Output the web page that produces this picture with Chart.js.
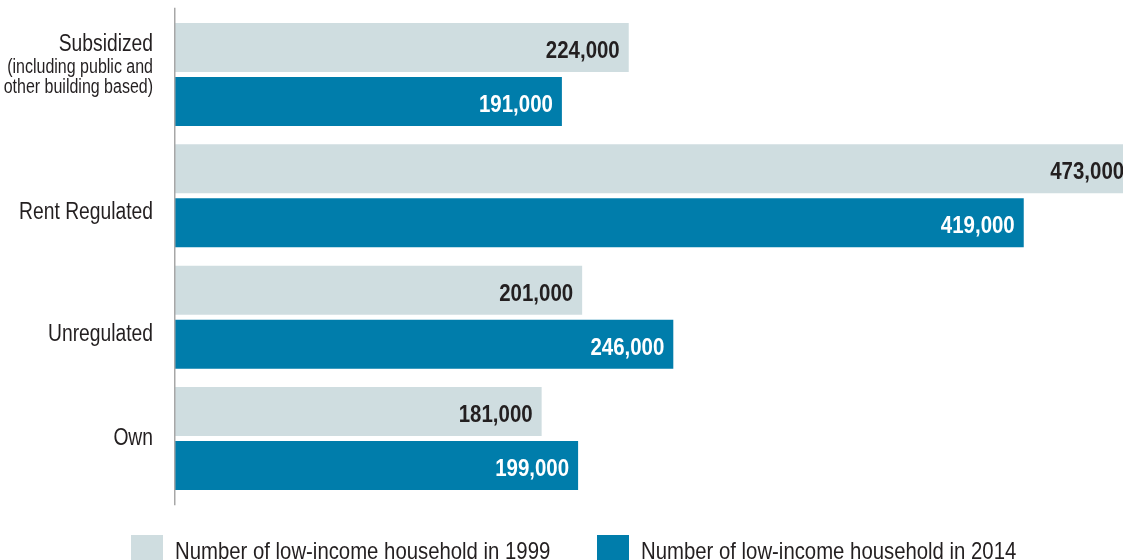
<!DOCTYPE html>
<html>
<head>
<meta charset="utf-8">
<title>Low-income households by housing type, 1999 and 2014</title>
<script src="https://cdn.jsdelivr.net/npm/chart.js@4.4.1/dist/chart.umd.min.js"></script>
<style>
  html, body { margin: 0; padding: 0; background: #ffffff; }
  #wrap { position: relative; width: 1123px; height: 560px; }
</style>
</head>
<body>
<div id="wrap"><canvas id="chart" width="1123" height="560"></canvas></div>
<script>
// Housing categories (first entry carries a two-line note beneath it)
const categories = [
  ["Subsidized", "(including public and", "other building based)"],
  ["Rent Regulated"],
  ["Unregulated"],
  ["Own"]
];

// Number of low-income households per category
const households1999 = [224000, 473000, 201000, 181000];
const households2014 = [191000, 419000, 246000, 199000];

const seriesLabels = [
  "Number of low-income household in 1999",
  "Number of low-income household in 2014"
];

const FONT = "'Liberation Sans', Arial, sans-serif";
const NARROW = 0.82;          // horizontal squeeze for a condensed look
const LIGHT = "#cfdde0";
const BLUE = "#007dab";
const INK = "#231f20";

const fmt = v => v.toLocaleString("en-US");

// Draw condensed text by squeezing the canvas horizontally around the anchor
function narrowText(ctx, text, x, y, align, font, sx) {
  ctx.save();
  ctx.font = font;
  ctx.textAlign = align;
  ctx.textBaseline = "alphabetic";
  ctx.translate(x, y);
  ctx.scale(sx || NARROW, 1);
  ctx.fillText(text, 0, 0);
  ctx.restore();
}

// Vertical axis rule at the left edge of the plot
const axisRule = {
  id: "axisRule",
  afterDatasetsDraw(chart) {
    const { ctx, chartArea } = chart;
    ctx.save();
    ctx.strokeStyle = "#a7a7a7";
    ctx.lineWidth = 1.5;
    ctx.beginPath();
    ctx.moveTo(chartArea.left - 0.25, chartArea.top - 6);
    ctx.lineTo(chartArea.left - 0.25, chartArea.bottom + 6);
    ctx.stroke();
    ctx.restore();
  }
};

// Category names, right-aligned beside the axis
const categoryNames = {
  id: "categoryNames",
  afterDraw(chart, args, opts) {
    const { ctx, chartArea } = chart;
    const y = chart.scales.y;
    ctx.save();
    ctx.fillStyle = INK;
    categories.forEach((lines, i) => {
      const cy = y.getPixelForValue(i);
      let base = cy + opts.shift[i];
      lines.forEach((line, j) => {
        const font = (j === 0 ? "23.5px " : "19.5px ") + FONT;
        narrowText(ctx, line, chartArea.left - 22, base, "right", font);
        base += j === 0 ? 21.5 : 20;
      });
    });
    ctx.restore();
  }
};

// Value labels inside the end of each bar
const valueLabels = {
  id: "valueLabels",
  afterDatasetsDraw(chart) {
    const { ctx } = chart;
    ctx.save();
    chart.data.datasets.forEach((ds, di) => {
      const meta = chart.getDatasetMeta(di);
      ctx.fillStyle = di === 0 ? INK : "#ffffff";
      meta.data.forEach((bar, i) => {
        narrowText(ctx, fmt(ds.data[i]), bar.x - 9, bar.y + 10.5, "right",
                   "bold 23.5px " + FONT, 0.87);
      });
    });
    ctx.restore();
  }
};

// Legend row along the bottom edge
const bottomLegend = {
  id: "bottomLegend",
  afterDraw(chart) {
    const { ctx } = chart;
    const items = [
      { x: 131, color: LIGHT, text: seriesLabels[0] },
      { x: 597, color: BLUE, text: seriesLabels[1] }
    ];
    ctx.save();
    items.forEach(it => {
      ctx.fillStyle = it.color;
      ctx.fillRect(it.x, 535, 32, 30);
      ctx.fillStyle = INK;
      narrowText(ctx, it.text, it.x + 44, 559, "left", "24.5px " + FONT, 0.83);
    });
    ctx.restore();
  }
};

new Chart(document.getElementById("chart"), {
  type: "bar",
  data: {
    labels: categories.map(c => c[0]),
    datasets: [
      { label: seriesLabels[0], data: households1999, backgroundColor: LIGHT },
      { label: seriesLabels[1], data: households2014, backgroundColor: BLUE }
    ]
  },
  options: {
    indexAxis: "y",
    responsive: false,
    animation: false,
    events: [],
    categoryPercentage: 0.89,
    barPercentage: 0.907,
    layout: { padding: { left: 175, right: 0, top: 13.8, bottom: 60.8 } },
    scales: {
      x: { display: false, min: 0, max: 468000 },
      y: { display: false }
    },
    plugins: {
      legend: { display: false },
      tooltip: { enabled: false },
      categoryNames: { shift: [-23, 23, 23.5, 6.5] }
    }
  },
  plugins: [axisRule, valueLabels, categoryNames, bottomLegend]
});
</script>
</body>
</html>
